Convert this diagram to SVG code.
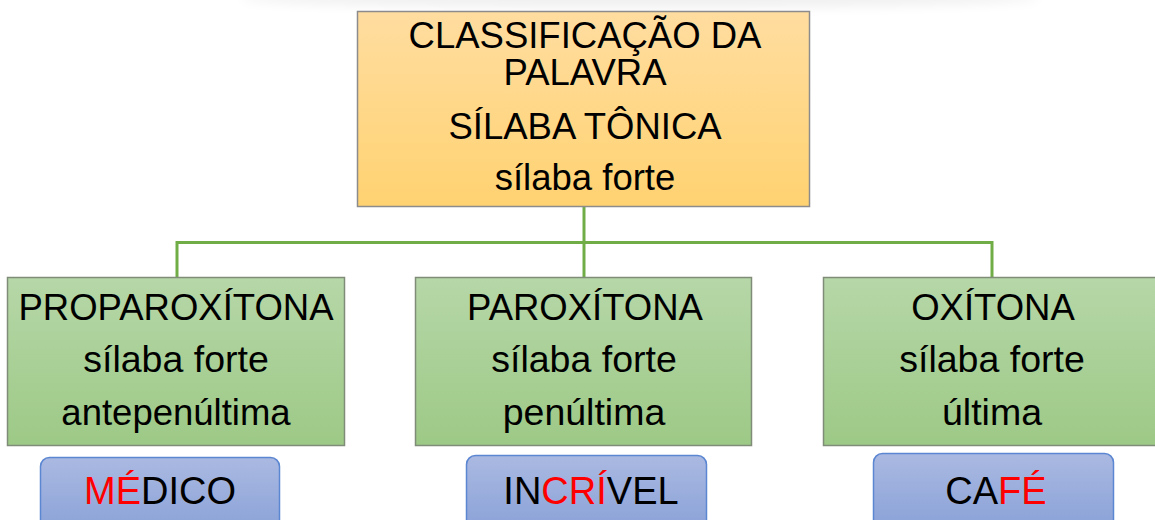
<svg xmlns="http://www.w3.org/2000/svg" width="1155" height="520" viewBox="0 0 1155 520">
  <defs>
    <linearGradient id="gOrange" x1="0" y1="0" x2="0" y2="1">
      <stop offset="0" stop-color="#FFDDA0"/>
      <stop offset="1" stop-color="#FFD271"/>
    </linearGradient>
    <linearGradient id="gGreen" x1="0" y1="0" x2="0" y2="1">
      <stop offset="0" stop-color="#B6D7A8"/>
      <stop offset="1" stop-color="#9DC986"/>
    </linearGradient>
    <linearGradient id="gBlue" x1="0" y1="0" x2="0" y2="1">
      <stop offset="0" stop-color="#AAB9E1"/>
      <stop offset="1" stop-color="#8AA2D8"/>
    </linearGradient>
    <filter id="blur" x="-20%" y="-200%" width="140%" height="500%">
      <feGaussianBlur stdDeviation="6"/>
    </filter>
    <style>
      .t { font-family: "Liberation Sans", Arial, sans-serif; font-size: 36.5px; fill: #000; text-anchor: middle; }
      .lc { font-size: 37.5px; }
      .w { font-size: 38px; }
      .red { fill: #FF0000; }
      .top { fill: url(#gOrange); stroke: #8C8C8C; stroke-width: 1.5; }
      .lvl { fill: url(#gGreen); stroke: #7F8C78; stroke-width: 1.5; }
      .ex { fill: url(#gBlue); stroke: #5B86D1; stroke-width: 1.5; }
      .conn { fill: none; stroke: #70AD47; stroke-width: 3; }
    </style>
  </defs>
  <rect width="1155" height="520" fill="#FFFFFF"/>
  <ellipse cx="640" cy="-2" rx="400" ry="10" fill="#000" opacity="0.06" filter="url(#blur)"/>

  <g id="connectors">
    <path class="conn" d="M584,207 V278"/>
    <path class="conn" d="M177,278 V242.5 H992 V278"/>
  </g>

  <g id="node-root">
    <rect class="top" x="357.5" y="11.5" width="452" height="195"/>
    <text class="t" x="585" y="48" font-size="38.4">CLASSIFICAÇÃO DA</text>
    <text class="t" x="585" y="85" font-size="38">PALAVRA</text>
    <text class="t" x="585" y="139" font-size="37">SÍLABA TÔNICA</text>
    <text class="t" x="585" y="190" font-size="39">sílaba forte</text>
  </g>

  <g id="node-proparoxitona">
    <rect class="lvl" x="7.5" y="277.5" width="337" height="168"/>
    <text class="t" x="176" y="320">PROPAROXÍTONA</text>
    <text class="t lc" x="176" y="372">sílaba forte</text>
    <text class="t" x="176" y="425" font-size="35.6">antepenúltima</text>
  </g>

  <g id="node-paroxitona">
    <rect class="lvl" x="415.5" y="277.5" width="336" height="168"/>
    <text class="t" x="585" y="320">PAROXÍTONA</text>
    <text class="t lc" x="584" y="372">sílaba forte</text>
    <text class="t lc" x="584" y="425">penúltima</text>
  </g>

  <g id="node-oxitona">
    <rect class="lvl" x="823.5" y="277.5" width="345" height="168"/>
    <text class="t" x="993" y="320">OXÍTONA</text>
    <text class="t lc" x="992" y="372">sílaba forte</text>
    <text class="t lc" x="992" y="425">última</text>
  </g>

  <g id="node-medico">
    <rect class="ex" x="40.5" y="457.5" width="239" height="75" rx="9"/>
    <text class="t w" x="160" y="504"><tspan class="red">MÉ</tspan>DICO</text>
  </g>

  <g id="node-incrivel">
    <rect class="ex" x="466.5" y="455.5" width="240" height="75" rx="9"/>
    <text class="t w" x="591" y="504">IN<tspan class="red">CRÍ</tspan>VEL</text>
  </g>

  <g id="node-cafe">
    <rect class="ex" x="873.5" y="453.5" width="240" height="75" rx="9"/>
    <text class="t w" x="996" y="504">CA<tspan class="red">FÉ</tspan></text>
  </g>
</svg>
